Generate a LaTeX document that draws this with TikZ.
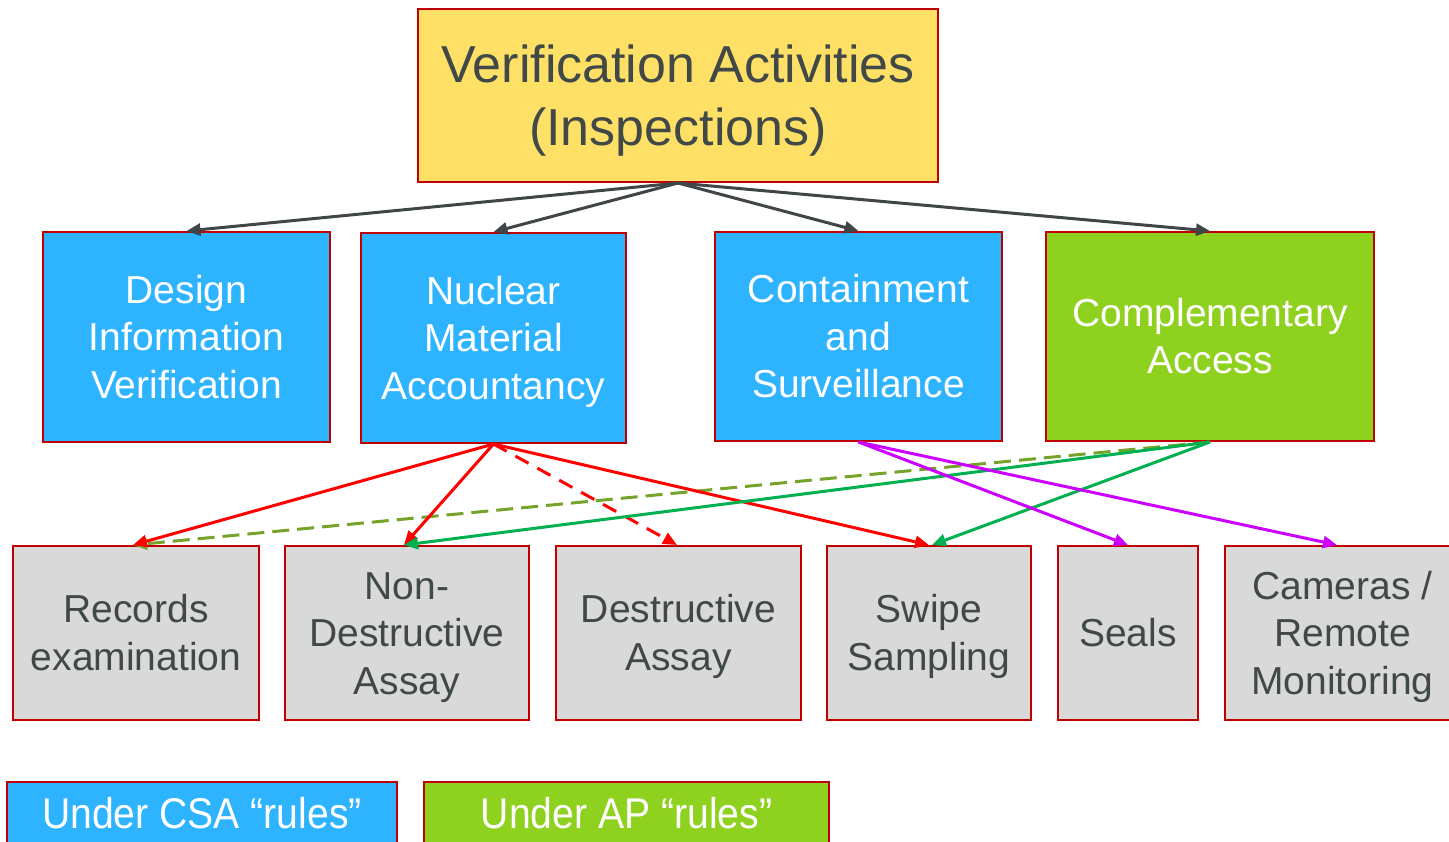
\documentclass[tikz,border=0pt]{standalone}
\usepackage{fontspec}
\setmainfont{Liberation Sans}
\usetikzlibrary{arrows.meta}
\definecolor{boxred}{RGB}{192,0,0}
\definecolor{topyellow}{RGB}{255,224,102}
\definecolor{csablue}{RGB}{46,180,255}
\definecolor{apgreen}{RGB}{143,209,31}
\definecolor{boxgray}{RGB}{217,217,217}
\definecolor{textgray}{RGB}{64,72,72}
\definecolor{arrgray}{RGB}{64,70,72}
\definecolor{arrred}{RGB}{255,0,0}
\definecolor{arrpurple}{RGB}{204,0,255}
\definecolor{arrgreen}{RGB}{0,176,80}
\definecolor{arrolive}{RGB}{118,163,42}
\newcommand{\tst}{\rule{0pt}{0.905em}}
\newcommand{\bst}{\rule[-0.212em]{0pt}{0pt}}
\begin{document}
\begin{tikzpicture}[x=0.5pt,y=-0.5pt,
  box/.style={draw=boxred, line width=1pt, inner sep=0pt, align=center},
  midfont/.style={font=\fontsize{19.5}{23.75}\selectfont},
  bluebox/.style={box, fill=csablue, text=white, midfont, minimum height=105pt},
  greenbox/.style={box, fill=apgreen, text=white, midfont, minimum height=105pt},
  graybox/.style={box, fill=boxgray, text=textgray, midfont, minimum height=87pt},
  legbox/.style={box, text=white, font=\fontsize{21.5}{25}\selectfont, minimum height=31.5pt},
  arr/.style={line width=1.5pt, -{Triangle[length=7pt,width=6pt]}},
  reddash/.style={dash pattern=on 7.5pt off 5pt},
  olivedash/.style={dash pattern=on 8.5pt off 4pt}]
\useasboundingbox (0,0) rectangle (1449,841);

\node[box, fill=topyellow, text=textgray, minimum width=260pt, minimum height=86.5pt,
  font=\fontsize{26}{31.5}\selectfont] (top) at (678,95.5) {\tst Verification Activities\\(Inspections)\bst};

\node[bluebox, minimum width=143.5pt] (div) at (186.5,337) {\tst Design\\Information\\Verification\bst};
\node[bluebox, minimum width=132.5pt] (nma) at (493.5,338) {\tst Nuclear\\Material\\Accountancy\bst};
\node[bluebox, minimum width=143.5pt, minimum height=104.5pt] (cs) at (858.5,336.5) {\tst Containment\\and\\Surveillance\bst};
\node[greenbox, minimum width=164pt, minimum height=104.5pt] (ca) at (1210,336.5) {\tst Complementary\\Access\bst};

\node[graybox, minimum width=123pt] (rec) at (136,633) {\tst Records\\examination\bst};
\node[graybox, minimum width=122pt] (nda) at (407,633) {\tst Non-\\Destructive\\Assay\bst};
\node[graybox, minimum width=122.5pt] (da) at (678.5,633) {\tst Destructive\\Assay\bst};
\node[graybox, minimum width=102pt] (sw) at (929,633) {\tst Swipe\\Sampling\bst};
\node[graybox, minimum width=70pt] (seal) at (1128,633) {\tst Seals\bst};
\node[graybox, minimum width=117.5pt] (cam) at (1342.5,633) {\tst Cameras /\\Remote\\Monitoring\bst};

\node[legbox, fill=csablue, minimum width=195pt] (lcsa) at (202,813.5) {\scalebox{0.91}[1]{Under CSA “rules”}};
\node[legbox, fill=apgreen, minimum width=202.5pt] (lap) at (626.5,813.5) {\scalebox{0.91}[1]{Under AP “rules”}};

\draw[arr, arrgray] (top.south) -- (div.north);
\draw[arr, arrgray] (top.south) -- (nma.north);
\draw[arr, arrgray] (top.south) -- (cs.north);
\draw[arr, arrgray] (top.south) -- (ca.north);

\draw[arr, arrolive, olivedash] (ca.south) -- ([xshift=-1.5pt]rec.north);
\draw[arr, arrred] (nma.south) -- ([xshift=-1.5pt]rec.north);
\draw[arr, arrred] (nma.south) -- ([xshift=-1.5pt]nda.north);
\draw[arr, arrred, reddash] (nma.south) -- ([xshift=-0.75pt]da.north);
\draw[arr, arrred] (nma.south) -- (sw.north);
\draw[arr, arrgreen] (ca.south) -- ([xshift=-1.5pt]nda.north);
\draw[arr, arrgreen] (ca.south) -- ([xshift=1.5pt]sw.north);
\draw[arr, arrpurple] (cs.south) -- (seal.north);
\draw[arr, arrpurple] (cs.south) -- ([xshift=-2.75pt]cam.north);
\end{tikzpicture}
\end{document}
